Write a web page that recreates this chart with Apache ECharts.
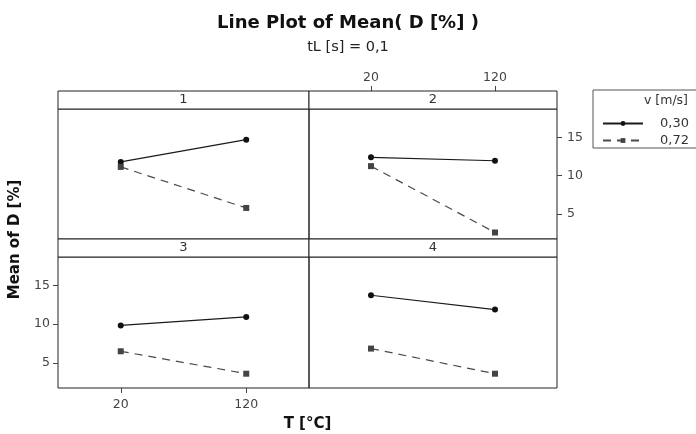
<!DOCTYPE html>
<html>
<head>
<meta charset="utf-8">
<script src="https://cdn.jsdelivr.net/npm/echarts@6/dist/echarts.min.js"></script>
<style>
html,body{margin:0;padding:0;background:#fff;}
#chart{width:696px;height:434px;}
</style>
</head>
<body>
<div id="chart"></div>
<script>
// ---- data ----
const categories = ['20', '120'];          // T [°C]
const panelLabels = ['1', '2', '3', '4'];  // panel strips
const seriesNames = ['0,30', '0,72'];      // v [m/s]
const speed030 = [[11.8, 14.7], [12.4, 11.95], [9.85, 10.95], [13.75, 11.9]];
const speed072 = [[11.15, 5.8], [11.25, 2.6], [6.5, 3.6], [6.85, 3.6]];
const yTicks = [5, 10, 15];

// ---- layout ----
const FONT = "'DejaVu Sans', Verdana, sans-serif";
const colLeft = [58, 309], colWidth = [251, 248];
const rowTop = [109, 257], rowHeight = [130, 131];
const stripH = 18;
const yMin = 1.75, yMax = 18.7;

const chart = echarts.init(document.getElementById('chart'));

const grids = [], xAxes = [], yAxes = [], series = [], graphics = [];
for (let i = 0; i < 4; i++) {
  const r = Math.floor(i / 2), c = i % 2;
  grids.push({
    left: colLeft[c], top: rowTop[r], width: colWidth[c], height: rowHeight[r],
    show: true, borderColor: '#222', borderWidth: 1, backgroundColor: 'transparent'
  });
  const showX = (i === 1 || i === 2);
  xAxes.push({
    type: 'category', gridIndex: i, data: categories, boundaryGap: true,
    position: i === 1 ? 'top' : 'bottom',
    offset: i === 1 ? stripH : 0,
    axisLine: { show: false },
    axisTick: { show: showX, alignWithLabel: true, interval: 0, length: 5, lineStyle: { color: '#444' } },
    axisLabel: { show: showX, interval: 0, color: '#444', fontSize: 12.5, fontFamily: FONT, margin: i === 1 ? 7 : 10 },
    splitLine: { show: false }
  });
  const showY = (i === 1 || i === 2);
  yAxes.push({
    type: 'value', gridIndex: i, min: yMin, max: yMax,
    position: i === 1 ? 'right' : 'left',
    axisLine: { show: false },
    axisTick: { show: showY, length: 5, customValues: yTicks, lineStyle: { color: '#444' } },
    axisLabel: { show: showY, customValues: yTicks, color: '#444', fontSize: 12.5, fontFamily: FONT, margin: i === 1 ? 10 : 8 },
    splitLine: { show: false }
  });
  series.push({
    name: seriesNames[0], type: 'line', xAxisIndex: i, yAxisIndex: i,
    data: speed030[i], symbol: 'circle', symbolSize: 6,
    lineStyle: { color: '#1a1a1a', width: 1.2, type: 'solid' },
    itemStyle: { color: '#111' }, emphasis: { disabled: true }, animation: false
  });
  series.push({
    name: seriesNames[1], type: 'line', xAxisIndex: i, yAxisIndex: i,
    data: speed072[i], symbol: 'rect', symbolSize: 6,
    lineStyle: { color: '#4a4a4a', width: 1.2, type: [8, 6] },
    itemStyle: { color: '#444' }, emphasis: { disabled: true }, animation: false
  });
  // strip header
  graphics.push({
    type: 'rect', z: 10,
    shape: { x: colLeft[c], y: rowTop[r] - stripH, width: colWidth[c], height: stripH },
    style: { fill: '#fff', stroke: '#222', lineWidth: 1 }
  });
  graphics.push({
    type: 'text', z: 11,
    x: colLeft[c] + colWidth[c] / 2, y: rowTop[r] - stripH / 2,
    style: { text: panelLabels[i], font: '13px ' + FONT, fill: '#333', align: 'center', verticalAlign: 'middle' }
  });
}

const panelsLeft = colLeft[0], panelsRight = colLeft[1] + colWidth[1];
const panelsTop = rowTop[0] - stripH, panelsBottom = rowTop[1] + rowHeight[1];

// axis titles
graphics.push({
  type: 'text', x: (panelsLeft + panelsRight) / 2, y: 424,
  style: { text: 'T [°C]', font: 'bold 15px ' + FONT, fill: '#111', align: 'center', verticalAlign: 'middle' }
});
graphics.push({
  type: 'text', x: 15, y: (panelsTop + panelsBottom) / 2, rotation: Math.PI / 2,
  style: { text: 'Mean of D [%]', font: 'bold 15px ' + FONT, fill: '#111', align: 'center', verticalAlign: 'middle' }
});
// legend box + header
graphics.push({
  type: 'rect', shape: { x: 593, y: 90, width: 120, height: 58 },
  style: { fill: '#fff', stroke: '#555', lineWidth: 1 }, z: 0
});
graphics.push({
  type: 'text', x: 688, y: 101,
  style: { text: 'v [m/s]', font: '12.5px ' + FONT, fill: '#333', align: 'right', verticalAlign: 'middle' }
});

chart.setOption({
  backgroundColor: '#fff',
  animation: false,
  title: {
    text: 'Line Plot of Mean( D [%] )',
    subtext: 'tL [s] = 0,1',
    left: 'center', top: 9, itemGap: 8,
    textStyle: { fontFamily: FONT, fontSize: 18, fontWeight: 'bold', color: '#111' },
    subtextStyle: { fontFamily: FONT, fontSize: 14.5, color: '#222' }
  },
  legend: {
    data: seriesNames, orient: 'vertical', left: 597, top: 112,
    itemWidth: 40, itemHeight: 6, itemGap: 4,
    formatter: '{a|{name}}',
    textStyle: {
      fontFamily: FONT, fontSize: 13, color: '#333',
      rich: { a: { width: 41, align: 'right', fontFamily: FONT, fontSize: 13, color: '#333', lineHeight: 14 } }
    }
  },
  grid: grids,
  xAxis: xAxes,
  yAxis: yAxes,
  series: series,
  graphic: graphics
});
</script>
</body>
</html>
